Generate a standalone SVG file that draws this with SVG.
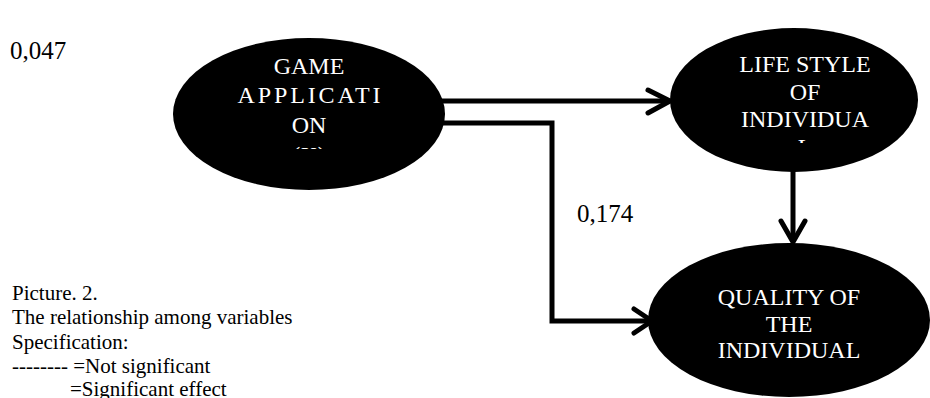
<svg xmlns="http://www.w3.org/2000/svg" width="930" height="398" viewBox="0 0 930 398">
<style>
.node{fill:#000}
.nt{fill:#fff;font-family:'Liberation Serif',Tinos,'Times New Roman','DejaVu Serif',serif;font-size:24px;text-anchor:middle}
.lbl{fill:#000;font-family:'Liberation Serif',Tinos,'Times New Roman','DejaVu Serif',serif;font-size:25px}
.cap{fill:#000;font-family:'Liberation Serif',Tinos,'Times New Roman','DejaVu Serif',serif;font-size:21px}
.conn{fill:none;stroke:#000;stroke-width:5}
.head{fill:none;stroke:#000;stroke-width:5;stroke-linecap:round;stroke-linejoin:round}
</style>
<defs>
<clipPath id="c1"><rect x="170" y="40" width="280" height="109"/></clipPath>
<clipPath id="c2"><rect x="670" y="40" width="250" height="103"/></clipPath>
</defs>
<rect width="930" height="398" fill="#fff"/>
<g id="connectors">
<polyline class="conn" points="440,101 668,101"/>
<polyline class="head" points="648,90 670,101 648,113"/>
<polyline class="conn" points="440,123 552,123 552,321 650,321"/>
<polyline class="head" points="634,309 652,321 634,333"/>
<polyline class="conn" points="793,170 793,240"/>
<polyline class="head" points="781,221 793,242 805,221"/>
</g>
<g id="game">
<ellipse class="node" cx="309" cy="114" rx="136" ry="76"/>
<g clip-path="url(#c1)">
<text class="nt" x="309" y="74">GAME</text>
<text class="nt" x="309" y="103" textLength="143" lengthAdjust="spacing">APPLICATI</text>
<text class="nt" x="309" y="133">ON</text>
<text class="nt" x="309" y="163">(X)</text>
</g>
</g>
<g id="lifestyle">
<ellipse class="node" cx="794" cy="100" rx="124" ry="72"/>
<g clip-path="url(#c2)">
<text class="nt" x="805" y="72">LIFE STYLE</text>
<text class="nt" x="805" y="100">OF</text>
<text class="nt" x="805" y="127">INDIVIDUA</text>
<text class="nt" x="805" y="155">L</text>
</g>
</g>
<g id="quality">
<ellipse class="node" cx="789" cy="320" rx="141" ry="77"/>
<text class="nt" x="789" y="305">QUALITY OF</text>
<text class="nt" x="789" y="332">THE</text>
<text class="nt" x="789" y="358">INDIVIDUAL</text>
</g>
<g id="labels">
<text class="lbl" x="10" y="59">0,047</text>
<text class="lbl" x="577" y="222">0,174</text>
</g>
<g id="caption">
<text class="cap" x="12" y="300">Picture. 2.</text>
<text class="cap" x="12" y="324">The relationship among variables</text>
<text class="cap" x="12" y="349">Specification:</text>
<text class="cap" x="12" y="373">-------- =Not significant</text>
<text class="cap" x="70" y="396">=Significant effect</text>
</g>
</svg>
